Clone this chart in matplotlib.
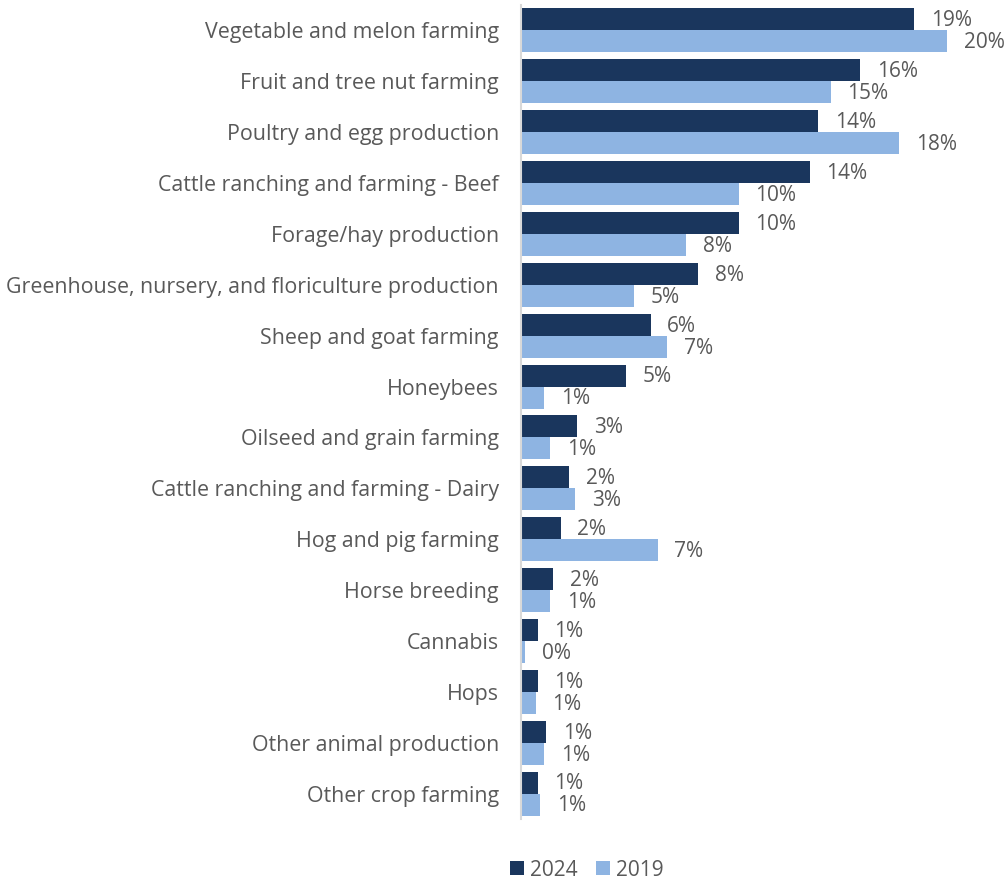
import matplotlib
matplotlib.use("Agg")
import matplotlib.pyplot as plt
import numpy as np

plt.rcParams['font.family'] = ['Open Sans', 'DejaVu Sans']

categories = [
    "Vegetable and melon farming",
    "Fruit and tree nut farming",
    "Poultry and egg production",
    "Cattle ranching and farming - Beef",
    "Forage/hay production",
    "Greenhouse, nursery, and floriculture production",
    "Sheep and goat farming",
    "Honeybees",
    "Oilseed and grain farming",
    "Cattle ranching and farming - Dairy",
    "Hog and pig farming",
    "Horse breeding",
    "Cannabis",
    "Hops",
    "Other animal production",
    "Other crop farming",
]
share_2024 = [18.86, 16.26, 14.26, 13.85, 10.44, 8.49, 6.22, 5.02,
              2.70, 2.30, 1.90, 1.55, 0.80, 0.80, 1.20, 0.80]
share_2019 = [20.45, 14.85, 18.14, 10.44, 7.91, 5.42, 7.02, 1.10,
              1.41, 2.60, 6.55, 1.41, 0.21, 0.70, 1.10, 0.91]
series_names = ["2024", "2019"]

dark_blue = "#1a365d"
light_blue = "#8eb4e2"
text_color = "#595959"

fig = plt.figure(figsize=(10.08, 8.82), dpi=100)
ax = fig.add_axes([521 / 1008, 1 - 819 / 882, 22 * 20.85 / 1008, 814 / 882])

n = len(categories)
y = np.arange(n)
h = 0.432

b1 = ax.barh(y - h / 2, share_2024, height=h, color=dark_blue, label=series_names[0])
b2 = ax.barh(y + h / 2, share_2019, height=h, color=light_blue, label=series_names[1])

for bars, vals in ((b1, share_2024), (b2, share_2019)):
    for bar, v in zip(bars, vals):
        ax.annotate(f"{v:.0f}%", xy=(v, bar.get_y() + bar.get_height() / 2),
                    xytext=(12, -1), textcoords="offset points",
                    ha="left", va="center", fontsize=15, color=text_color)

ax.set_xlim(0, 22)
ax.set_ylim(n - 0.5, -0.5)
ax.set_yticks(y)
ax.set_yticklabels(categories, fontsize=15.4, color=text_color)
ax.tick_params(axis="y", length=0, pad=16)
ax.set_xticks([])
for side in ("top", "right", "bottom"):
    ax.spines[side].set_visible(False)
ax.spines["left"].set_color("#d9d9d9")
ax.spines["left"].set_linewidth(1.5)

fig.legend(handles=[b1, b2], labels=series_names, loc="center",
           bbox_to_anchor=(587 / 1008, 1 - 870 / 882), ncol=2, frameon=False,
           fontsize=15, labelcolor=text_color, handlelength=0.65, handleheight=0.65,
           handletextpad=0.3, columnspacing=0.9)

fig.savefig("out.png", dpi=100, facecolor="white")
